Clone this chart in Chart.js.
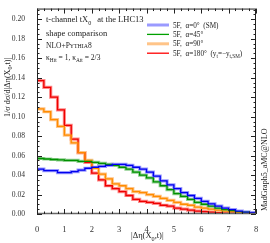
<!DOCTYPE html>
<html>
<head>
<meta charset="utf-8">
<script src="https://cdn.jsdelivr.net/npm/chart.js@4.4.1/dist/chart.umd.min.js"></script>
<style>
  html, body { margin: 0; padding: 0; background: #fff; }
  canvas { display: block; }
</style>
</head>
<body>
<canvas id="myChart" width="270" height="243"></canvas>
<script>
// bin edges of |Δη(X0,t)| (32 bins of 0.25)
const binEdges = [0, 0.25, 0.5, 0.75, 1, 1.25, 1.5, 1.75, 2, 2.25, 2.5, 2.75, 3, 3.25, 3.5, 3.75,
	4, 4.25, 4.5, 4.75, 5, 5.25, 5.5, 5.75, 6, 6.25, 6.5, 6.75, 7, 7.25, 7.5, 7.75, 8];

// normalised distributions, one value per bin
const alpha0 = [0.046, 0.0445, 0.0445, 0.0425, 0.0425, 0.0435, 0.045, 0.047, 0.048, 0.049, 0.050, 0.051,
	0.051, 0.050, 0.048, 0.046, 0.043, 0.039, 0.034, 0.030, 0.026, 0.022, 0.019, 0.016,
	0.013, 0.0105, 0.008, 0.006, 0.0045, 0.003, 0.002, 0.0015];
const alpha45 = [0.057, 0.0565, 0.056, 0.0555, 0.055, 0.055, 0.054, 0.054, 0.053, 0.052, 0.051, 0.050,
	0.048, 0.046, 0.043, 0.040, 0.037, 0.033, 0.029, 0.025, 0.021, 0.018, 0.015, 0.012,
	0.010, 0.008, 0.006, 0.0045, 0.0035, 0.0025, 0.0018, 0.0012];
const alpha90 = [0.108, 0.105, 0.097, 0.090, 0.081, 0.073, 0.063, 0.055, 0.047, 0.041, 0.036, 0.031,
	0.029, 0.026, 0.023, 0.022, 0.020, 0.018, 0.016, 0.014, 0.012, 0.010, 0.009, 0.007,
	0.006, 0.005, 0.004, 0.003, 0.0025, 0.0018, 0.0012, 0.0008];
const alpha180 = [0.137, 0.130, 0.120, 0.107, 0.091, 0.077, 0.063, 0.053, 0.042, 0.035, 0.029, 0.026,
	0.023, 0.019, 0.015, 0.013, 0.012, 0.011, 0.009, 0.008, 0.006, 0.005, 0.004, 0.003,
	0.0025, 0.002, 0.0015, 0.001, 0.0008, 0.0005, 0.0003, 0.0002];

const xTicks = [0, 1, 2, 3, 4, 5, 6, 7, 8];
const yTicks = [0, 0.02, 0.04, 0.06, 0.08, 0.10, 0.12, 0.14, 0.16, 0.18, 0.20];

const serif = '"Liberation Serif", "DejaVu Serif", serif';

// turn bin values into step points
function steps(vals) {
	let pts = vals.map((v, i) => ({ x: binEdges[i], y: v }));
	pts.push({ x: binEdges[vals.length], y: vals[vals.length - 1] });
	return pts;
}

function band(vals, color) {
	return { data: steps(vals), stepped: true, borderColor: color, borderWidth: 3.2, pointRadius: 0, fill: false, order: 2 };
}
function line(vals, color) {
	return { data: steps(vals), stepped: true, borderColor: color, borderWidth: 1.3, pointRadius: 0, fill: false, order: 1 };
}

// draw text pieces, some as subscripts
function drawRich(ctx, x, y, parts, size) {
	parts.forEach(p => {
		let fs = p.s ? size * 0.72 : (p.small ? size * 0.78 : size);
		ctx.font = fs + 'px ' + serif;
		let dy = p.s ? size * 0.3 : 0;
		ctx.fillText(p.t, x, y + dy);
		x += ctx.measureText(p.t).width;
	});
	return x;
}

const decorations = {
	id: 'decorations',
	afterDraw(chart) {
		const ctx = chart.ctx;
		const a = chart.chartArea;
		const xs = chart.scales.x, ys = chart.scales.y;
		ctx.save();

		// frame
		ctx.strokeStyle = '#222';
		ctx.lineWidth = 1;
		ctx.strokeRect(a.left + 0.5, a.top + 0.5, a.right - a.left - 1, a.bottom - a.top - 1);
		ctx.strokeStyle = '#666';
		ctx.lineWidth = 1.5;
		ctx.beginPath();
		ctx.moveTo(a.left, a.bottom - 0.5);
		ctx.lineTo(a.right, a.bottom - 0.5);
		ctx.stroke();

		// ticks pointing inward
		ctx.strokeStyle = '#222';
		ctx.lineWidth = 1;
		ctx.beginPath();
		for (let i = 0; i <= 32; i++) {
			let px = Math.round(xs.getPixelForValue(binEdges[i])) + 0.5;
			let len = (i % 4 === 0) ? 5 : 2.5;
			ctx.moveTo(px, a.bottom); ctx.lineTo(px, a.bottom - len);
			ctx.moveTo(px, a.top); ctx.lineTo(px, a.top + len);
		}
		for (let j = 0; j <= 42; j++) {
			let v = j * 0.005;
			if (v > ys.max) break;
			let py = Math.round(ys.getPixelForValue(v)) + 0.5;
			let len = (j % 4 === 0) ? 5 : 2.5;
			ctx.moveTo(a.left, py); ctx.lineTo(a.left + len, py);
			ctx.moveTo(a.right, py); ctx.lineTo(a.right - len, py);
		}
		ctx.stroke();

		ctx.fillStyle = '#222';
		ctx.textBaseline = 'alphabetic';
		ctx.textAlign = 'left';

		// top-left labels
		let x = drawRich(ctx, 46, 22, [{ t: 't-channel tX' }, { t: '0', s: true }], 8.5);
		drawRich(ctx, x + 6, 22, [{ t: 'at the LHC13' }], 8.5);
		drawRich(ctx, 46, 36, [{ t: 'shape comparison' }], 8.5);
		drawRich(ctx, 46, 48, [{ t: 'NLO+P' }, { t: 'YTHIA', small: true }, { t: '8' }], 7.5);
		drawRich(ctx, 46, 60, [{ t: 'κ' }, { t: 'Htt', s: true }, { t: ' = 1, κ' }, { t: 'Att', s: true }, { t: ' = 2/3' }], 7.5);

		// legend
		const legend = [
			{ c: '#9a9aff', w: 3, parts: [{ t: '5F,  α=0°  (SM)' }] },
			{ c: '#00a000', w: 1.3, parts: [{ t: '5F,  α=45°' }] },
			{ c: '#ffc488', w: 3, parts: [{ t: '5F,  α=90°' }] },
			{ c: '#ff0000', w: 1.3, parts: [{ t: '5F,  α=180°  (y' }, { t: 't', s: true }, { t: '=−y' }, { t: 't,SM', s: true }, { t: ')' }] }
		];
		legend.forEach((e, i) => {
			let y = 25 + i * 9.4;
			ctx.strokeStyle = e.c;
			ctx.lineWidth = e.w;
			ctx.beginPath();
			ctx.moveTo(147, y); ctx.lineTo(169, y);
			ctx.stroke();
			ctx.fillStyle = '#222';
			drawRich(ctx, 173, y + 2.5, e.parts, 7.2);
		});

		// x axis title
		drawRich(ctx, 131, 238, [{ t: '|Δη(X' }, { t: '0', s: true }, { t: ',t)|' }], 8.5);

		// y axis title (rotated)
		ctx.save();
		ctx.translate(9.5, 117);
		ctx.rotate(-Math.PI / 2);
		drawRich(ctx, 0, 0, [{ t: '1/σ dσ/d|Δη(X' }, { t: '0', s: true }, { t: ',t)|' }], 8.2);
		ctx.restore();

		// generator tag on the right
		ctx.save();
		ctx.translate(267, 211);
		ctx.rotate(-Math.PI / 2);
		drawRich(ctx, 0, 0, [{ t: 'MadGraph5_aMC@NLO' }], 8);
		ctx.restore();

		ctx.restore();
	}
};

const myChart = document.getElementById('myChart');

let histChart = new Chart(myChart, {
	type: 'line',
	data: {
		datasets: [
			band(alpha0, '#9a9aff'),
			line(alpha0, '#0000ee'),
			band(alpha45, '#8fd08f'),
			line(alpha45, '#009000'),
			band(alpha90, '#ffc488'),
			line(alpha90, '#ff8c00'),
			band(alpha180, '#ff8a8a'),
			line(alpha180, '#ee0000')
		]
	},
	options: {
		responsive: false,
		animation: false,
		devicePixelRatio: 1,
		layout: { padding: { left: 0, right: 14, top: 8, bottom: 0 } },
		plugins: { legend: { display: false }, tooltip: { enabled: false } },
		scales: {
			x: {
				type: 'linear',
				min: 0,
				max: 8,
				afterBuildTicks: s => { s.ticks = xTicks.map(v => ({ value: v })); },
				afterFit: s => { s.height = 29; },
				grid: { display: false },
				border: { display: false },
				ticks: { color: '#333', padding: 3, font: { family: serif, size: 8.5 }, maxRotation: 0 }
			},
			y: {
				min: 0,
				max: 0.211,
				afterBuildTicks: s => { s.ticks = yTicks.map(v => ({ value: v })); },
				afterFit: s => { s.width = 37; },
				grid: { display: false },
				border: { display: false },
				ticks: { color: '#333', padding: 4, font: { family: serif, size: 7.6 }, callback: v => v.toFixed(2) }
			}
		}
	},
	plugins: [decorations]
});
</script>
</body>
</html>
